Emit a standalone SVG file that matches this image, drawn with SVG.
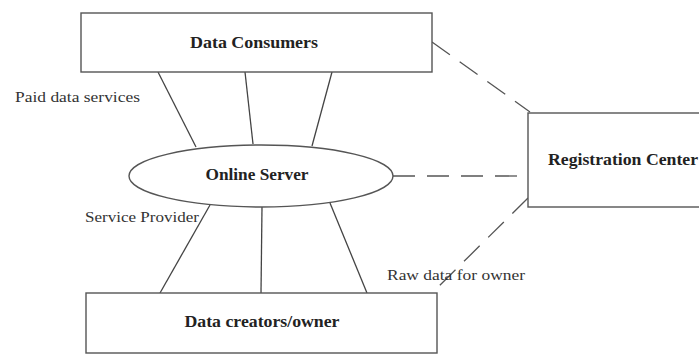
<svg xmlns="http://www.w3.org/2000/svg" width="699" height="354" viewBox="0 0 699 354">
<style>
.box{fill:#fff;stroke:#555;stroke-width:1.4}
.ln{stroke:#444;stroke-width:1.3;fill:none}
.dash{stroke:#555;stroke-width:1.3;fill:none;stroke-dasharray:22 12}
.b{font-family:'Liberation Serif','Times New Roman',Times,serif;font-weight:bold;font-size:16px;fill:#222}
.r{font-family:'Liberation Serif','Times New Roman',Times,serif;font-size:15px;fill:#333}
</style>
<rect width="699" height="354" fill="#fff"/>
<g id="connectors">
<line class="ln" x1="158" y1="72" x2="196" y2="147"/>
<line class="ln" x1="245" y1="72" x2="253" y2="144"/>
<line class="ln" x1="332" y1="72" x2="312" y2="146"/>
<line class="ln" x1="210" y1="205" x2="160" y2="293"/>
<line class="ln" x1="262" y1="207" x2="261" y2="293"/>
<line class="ln" x1="330" y1="203" x2="367" y2="293"/>
<line class="dash" x1="432" y1="42" x2="530" y2="112"/>
<line class="dash" x1="393" y1="176" x2="528" y2="176"/>
<line class="dash" x1="528" y1="198" x2="432" y2="293"/>
</g>
<g id="data-consumers">
<rect class="box" x="81" y="13" width="351" height="59"/>
<text class="b" x="254" y="48" text-anchor="middle" textLength="128" lengthAdjust="spacingAndGlyphs" font-family="Liberation Serif">Data Consumers</text>
</g>
<g id="online-server">
<ellipse class="box" cx="261" cy="176" rx="132" ry="31"/>
<text class="b" x="257" y="180" text-anchor="middle" textLength="103" lengthAdjust="spacingAndGlyphs">Online Server</text>
</g>
<g id="data-creators">
<rect class="box" x="86" y="293" width="351" height="60"/>
<text class="b" x="262" y="327" text-anchor="middle" textLength="155" lengthAdjust="spacingAndGlyphs">Data creators/owner</text>
</g>
<g id="registration-center">
<rect class="box" x="528" y="113" width="180" height="94"/>
<text class="b" x="548" y="165" textLength="150" lengthAdjust="spacingAndGlyphs">Registration Center</text>
</g>
<g id="labels">
<text class="r" x="15" y="102" textLength="125" lengthAdjust="spacingAndGlyphs">Paid data services</text>
<text class="r" x="85" y="222" textLength="114" lengthAdjust="spacingAndGlyphs">Service Provider</text>
<text class="r" x="387" y="280" textLength="138" lengthAdjust="spacingAndGlyphs">Raw data for owner</text>
</g>
</svg>
